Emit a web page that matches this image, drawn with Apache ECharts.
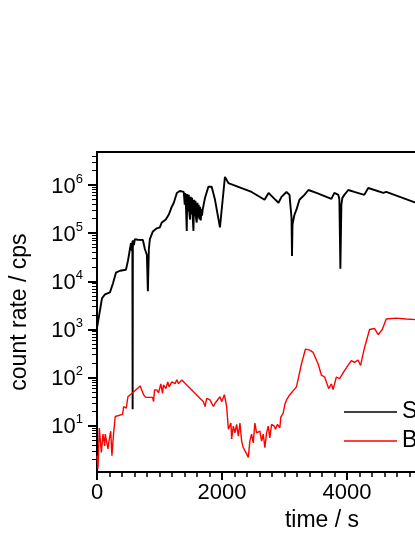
<!DOCTYPE html>
<html>
<head>
<meta charset="utf-8">
<script src="https://cdn.jsdelivr.net/npm/echarts@6/dist/echarts.min.js"></script>
<style>
  html, body { margin: 0; padding: 0; background: #fff; overflow: hidden; width: 415px; height: 537px; }
  #main { width: 600px; height: 537px; }
</style>
</head>
<body>
<div id="main"></div>
<script>
// signal trace (time in s, count rate in cps)
var sTime = [0, 32, 80, 128, 207, 255, 303, 367, 463, 495, 527, 543, 559, 566, 570, 574, 590, 606, 654, 734,
  766, 798, 814, 830, 846, 894, 957, 1005, 1037, 1101, 1149, 1197, 1229, 1277, 1324,
  1388, 1404, 1412, 1425, 1436, 1444, 1457, 1468, 1480, 1489, 1500, 1511, 1521, 1532, 1543, 1553, 1564, 1575, 1585, 1596,
  1607, 1617, 1628, 1639, 1648, 1660, 1671, 1680, 1691, 1703, 1728, 1782, 1835, 1888, 1967, 2047, 2102,
  2473, 2681, 2745, 2840, 2904, 2952, 3032, 3080, 3112, 3120, 3128, 3160, 3191, 3239, 3319, 3383, 3511, 3670, 3750, 3798,
  3862, 3878, 3894, 3910, 3926, 3957, 4021, 4117, 4276, 4340, 4580, 4628, 5106, 5600, 6000, 7000];
var sRate = [1080, 1900, 4450, 5370, 5900, 9000, 15100, 16600, 17400, 26600, 46900, 62100, 42700, 68300, 22, 71600, 56600, 75000, 73000, 72000,
  46900, 35300, 6200, 46900, 75000, 109000, 126000, 132000, 167000, 192000, 244000, 355000, 428000, 686000, 754000,
  719000, 390000, 686000, 308000, 111000, 654000, 281000, 625000, 244000, 192000, 569000, 244000, 542000, 211000, 111000, 494000, 222000, 471000, 202000, 167000,
  428000, 211000, 390000, 192000, 355000, 184000, 323000, 232000, 308000, 284000, 542000, 923000, 923000, 494000, 132000, 1479000, 1100000,
  719000, 494000, 686000, 517000, 428000, 569000, 719000, 625000, 211000, 33700, 152000, 244000, 308000, 494000, 625000, 790000, 686000, 569000, 517000, 686000,
  625000, 494000, 18300, 390000, 542000, 625000, 790000, 719000, 625000, 869000, 686000, 719000, 428000, 340000, 280000, 190000];

// background trace
var bTime = [0, 16, 37, 69, 96, 123, 132, 160, 176, 196, 219, 239, 266, 292, 410, 426, 468, 495, 570, 691,
  745, 782, 889, 905, 921, 957, 985, 1021, 1048, 1064, 1101, 1133, 1154, 1197, 1224, 1249, 1277, 1304, 1356, 1436,
  1703, 1728, 1755, 1808, 1862, 1888, 1915, 1968, 1995, 2038, 2074, 2102, 2143, 2154, 2181, 2207, 2234, 2261, 2287, 2314,
  2341, 2394, 2421, 2446, 2473, 2500, 2526, 2553, 2606, 2633, 2660, 2686, 2713, 2740, 2765, 2793, 2836, 2856, 2888, 2925,
  2941, 2979, 3005, 3032, 3085, 3112, 3191, 3219, 3271, 3335, 3404, 3458, 3538, 3590, 3643, 3670, 3697, 3707, 3750, 3777,
  3830, 3882, 3962, 4069, 4096, 4122, 4176, 4217, 4281, 4361, 4441, 4500, 4564, 4628, 4787, 4947, 5106, 5500, 6000];
var bRate = [2.4, 1.3, 9.0, 2.8, 6.7, 3.8, 6.7, 6.7, 3.3, 5.3, 7.7, 2.4, 7.1, 15.6, 17.2, 25.1, 23.1, 40.1, 48.4, 67.3,
  44.1, 38.8, 38.8, 31.7, 55.7, 55.7, 48.4, 74.0, 46.9, 70.6, 59.3, 81.3, 64.2, 81.3, 89.3, 75.0, 90.6, 75.0, 89.3, 70.6,
  31.7, 25.1, 37.0, 34.4, 25.1, 29.3, 27.5, 40.1, 31.7, 44.1, 25.1, 8.5, 11.4, 5.3, 9.8, 7.1, 10.7, 6.1, 11.4, 4.8,
  3.5, 2.6, 2.2, 4.8, 6.7, 4.4, 11.4, 7.1, 7.7, 4.8, 6.7, 3.5, 7.1, 9.8, 5.6, 10.7, 9.8, 8.5, 10.7, 9.0,
  15.1, 18.3, 27.5, 34.4, 44.1, 40.1, 64.2, 64.2, 192, 390, 372, 334, 192, 113, 103, 81.3, 89.3, 59.3, 74.0, 56.6,
  103, 95.1, 141, 226, 244, 208, 232, 179, 423, 1000, 1047, 780, 1000, 1656, 1720, 1656, 1600, 1500, 1400];

var seriesNames = ['Signal', 'Background'];
var xTicks = [0, 2000, 4000, 6000];
var yMajor = [10, 100, 1000, 10000, 100000, 1000000];
var yMin = 1.09, yMax = 4.86e6;
var yMinor = [];
for (var d = 0; d <= 6; d++) {
  for (var k = 2; k <= 9; k++) {
    var v = k * Math.pow(10, d);
    if (v > yMin && v < yMax) yMinor.push(v);
  }
}

function zip(a, b) {
  return a.map(function (t, i) { return [t, b[i]]; });
}

var font = 'Liberation Sans, Arial, sans-serif';
// the plot runs past the right edge of the window, so the canvas is wider than the page
var chart = echarts.init(document.getElementById('main'));
chart.setOption({
  animation: false,
  grid: {
    left: 95, top: 152, bottom: 63, right: 53,
    show: true, borderColor: '#000', borderWidth: 2
  },
  legend: {
    orient: 'vertical',
    left: 344, top: 400, padding: 0,
    icon: 'rect',
    itemWidth: 53, itemHeight: 1.6, itemGap: 5,
    textStyle: { fontFamily: font, fontSize: 23, color: '#000', lineHeight: 24 },
    data: seriesNames
  },
  xAxis: {
    type: 'value',
    min: 0, max: 7200, interval: 2000,
    name: 'time / s',
    nameLocation: 'middle', nameGap: 36,
    nameTextStyle: { fontFamily: font, fontSize: 23, color: '#000' },
    axisLine: { lineStyle: { color: '#000', width: 2 } },
    axisTick: { length: 8, lineStyle: { color: '#000', width: 2 }, customValues: xTicks },
    minorTick: { show: true, splitNumber: 10, length: 5, lineStyle: { color: '#000', width: 1.5 } },
    axisLabel: {
      fontFamily: font, fontSize: 22, color: '#000', margin: 10, customValues: xTicks,
      formatter: function (v) { return String(v); }
    },
    splitLine: { show: false }
  },
  yAxis: [{
    type: 'log',
    min: yMin, max: yMax,
    name: 'count rate / cps',
    nameLocation: 'middle', nameGap: 66, nameRotate: 90,
    nameTextStyle: { fontFamily: font, fontSize: 23, color: '#000' },
    axisLine: { show: true, lineStyle: { color: '#000', width: 2 } },
    axisTick: { length: 9, lineStyle: { color: '#000', width: 2 }, customValues: yMajor },
    axisLabel: {
      margin: 14,
      customValues: yMajor,
      formatter: function (v) {
        return '{b|10}{s|' + Math.round(Math.log10(v)) + '}';
      },
      rich: {
        b: { fontFamily: font, fontSize: 22, color: '#000', lineHeight: 25, verticalAlign: 'bottom' },
        s: { fontFamily: font, fontSize: 13, color: '#000', lineHeight: 13, verticalAlign: 'top' }
      }
    },
    splitLine: { show: false }
  }, {
    type: 'log',
    min: yMin, max: yMax,
    position: 'left',
    axisLine: { show: false },
    axisTick: { length: 5, lineStyle: { color: '#000', width: 1 }, customValues: yMinor },
    axisLabel: { show: false },
    splitLine: { show: false }
  }],
  series: [{
    name: seriesNames[0],
    type: 'line',
    symbol: 'none',
    lineStyle: { color: '#000', width: 1.9 },
    itemStyle: { color: '#000' },
    data: zip(sTime, sRate)
  }, {
    name: seriesNames[1],
    type: 'line',
    symbol: 'none',
    lineStyle: { color: '#ff0000', width: 1.4 },
    itemStyle: { color: '#ff0000' },
    data: zip(bTime, bRate)
  }]
});
</script>
</body>
</html>
